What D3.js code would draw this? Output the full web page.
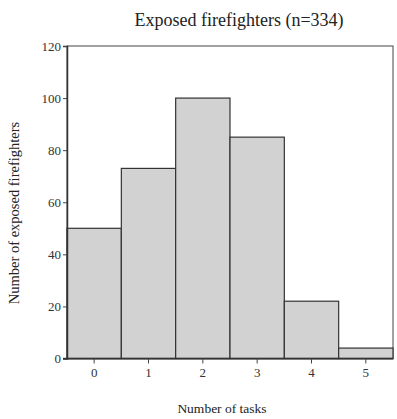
<!DOCTYPE html>
<html>
<head>
<meta charset="utf-8">
<script src="https://cdn.jsdelivr.net/npm/d3@7"></script>
<style>
  body { margin: 0; background: #fff; }
  text { font-family: "Liberation Serif", "DejaVu Serif", serif; fill: #222; }
</style>
</head>
<body>
<div id="dataviz"></div>
<script>
"use strict";

// Data
var tasks = ["0", "1", "2", "3", "4", "5"];
var firefighters = [50, 73, 100, 85, 22, 4];
var yTicks = [0, 20, 40, 60, 80, 100, 120];

var titleText = "Exposed firefighters (n=334)";
var xLabelText = "Number of tasks";
var yLabelText = "Number of exposed firefighters";

var margin = { top: 46, right: 3, bottom: 60, left: 67 };
var width = 397 - margin.left - margin.right;
var height = 419 - margin.top - margin.bottom;

var svg = d3.select("#dataviz").append("svg")
    .attr("width", 397)
    .attr("height", 419);

var g = svg.append("g")
    .attr("transform", "translate(" + margin.left + "," + margin.top + ")");

// Scales
var xScale = d3.scaleBand().domain(tasks).range([0, width - 1]).padding(0);
var yScale = d3.scaleLinear().domain([0, 120]).range([height - 0.5, 0]);

// Frame (top / right)
g.append("rect")
    .attr("x", 0).attr("y", 0)
    .attr("width", width - 1).attr("height", height)
    .attr("fill", "none")
    .attr("stroke", "#444")
    .attr("stroke-width", 1);

// Bars
g.selectAll("rect.bar")
    .data(firefighters)
    .enter().append("rect")
    .attr("class", "bar")
    .attr("x", function (d, i) { return xScale(tasks[i]); })
    .attr("y", function (d) { return yScale(d); })
    .attr("width", xScale.bandwidth())
    .attr("height", function (d) { return yScale(0) - yScale(d); })
    .attr("fill", "#d2d2d2")
    .attr("stroke", "#333")
    .attr("stroke-width", 1.2);

// Axes
var yAxis = d3.axisLeft(yScale).tickValues(yTicks).tickSize(4).tickPadding(2);
var xAxis = d3.axisBottom(xScale).tickSize(5).tickPadding(4);

var ya = g.append("g").attr("class", "yaxis").call(yAxis);
var xa = g.append("g").attr("class", "xaxis")
    .attr("transform", "translate(0," + (height - 0.5) + ")")
    .call(xAxis);

[ya, xa].forEach(function (a) {
    a.select(".domain").attr("stroke", "#333").attr("stroke-width", 1.5);
    a.selectAll(".tick line").attr("stroke", "#444");
    a.selectAll(".tick text")
        .attr("font-size", 13)
        .style("fill", "#333");
});
xa.select(".domain").attr("d", "M-4,0H" + (width - 1));

// Title
svg.append("text")
    .attr("x", 239).attr("y", 26)
    .attr("text-anchor", "middle")
    .attr("font-size", 18)
    .text(titleText);

// Axis labels
svg.append("text")
    .attr("x", 222).attr("y", 413)
    .attr("text-anchor", "middle")
    .attr("font-size", 13.5)
    .text(xLabelText);

svg.append("text")
    .attr("transform", "translate(19,213)rotate(-90)")
    .attr("text-anchor", "middle")
    .attr("font-size", 14.5)
    .text(yLabelText);
</script>
</body>
</html>
